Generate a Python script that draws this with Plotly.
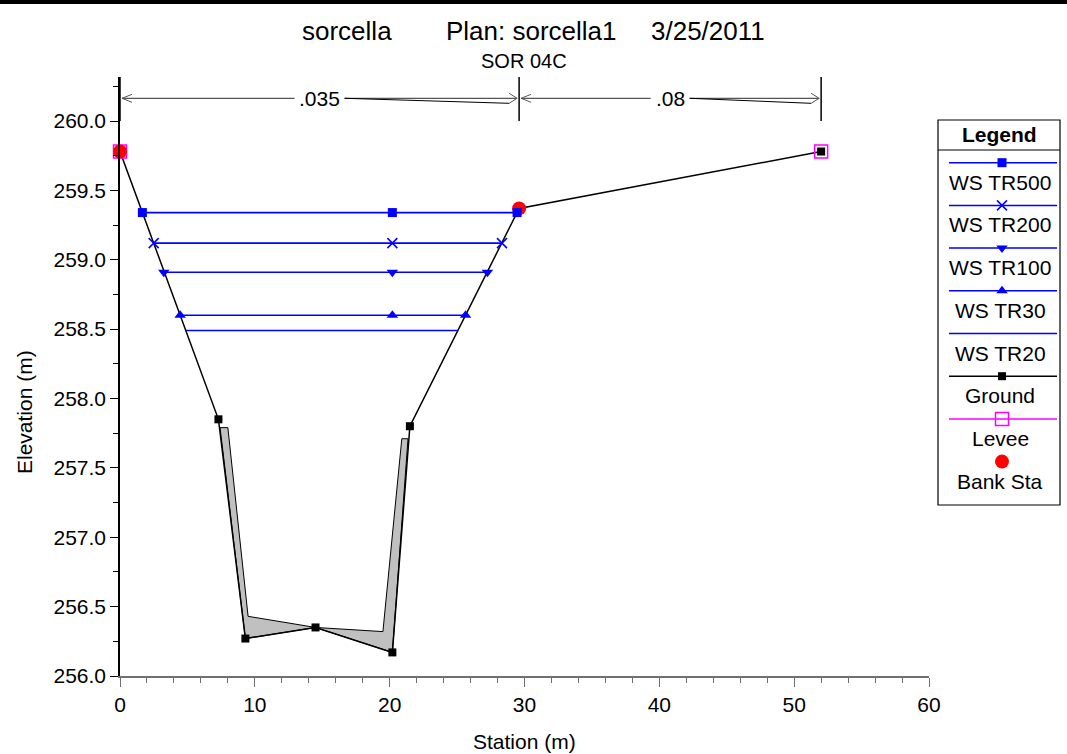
import plotly.graph_objects as go

W, H = 1067, 754

# ---------------- data ----------------
ground_x = [0.0, 7.3, 9.3, 14.5, 20.2, 21.5, 29.6, 52.0]
ground_y = [259.78, 257.85, 256.27, 256.35, 256.17, 257.80, 259.37, 259.78]

inner_x = [7.42, 8.0, 9.5, 14.5, 19.5, 20.9, 21.36]
inner_y = [257.79, 257.79, 256.43, 256.35, 256.32, 257.71, 257.71]

levee_x = [0.0, 52.0]
levee_y = [259.78, 259.78]

bank_x = [0.0, 29.6]
bank_y = [259.78, 259.37]

ws_names = ["WS TR500", "WS TR200", "WS TR100", "WS TR30", "WS TR20"]
ws_elev = [259.34, 259.12, 258.91, 258.60, 258.49]
ws_left = [1.66, 2.50, 3.25, 4.46, 4.88]
ws_right = [29.45, 28.33, 27.25, 25.63, 25.06]
ws_mid = 20.2
ws_symbols = ["square", "x-thin", "triangle-down", "triangle-up", None]

n_break_x = [0.0, 29.6, 52.0]
n_values = [".035", ".08"]

x_ticks = [0, 10, 20, 30, 40, 50, 60]
y_ticks = [256.0, 256.5, 257.0, 257.5, 258.0, 258.5, 259.0, 259.5, 260.0]

# ---------------- layout geometry (pixels) ----------------
PL, PR, PT, PB = 120, 929, 77, 676
X0, X1 = 0.0, 60.0
PX_PER_X = (PR - PL) / (X1 - X0)
PX_PER_Y = 138.75
Y0 = 256.0
Y1 = Y0 + (PB - PT) / PX_PER_Y

FONT = "Liberation Sans, Arial, sans-serif"
BLUE = "#0000FF"
FS = 21


def px(x):
    return x / W


def py(y):
    return 1 - y / H


fig = go.Figure()

# gray fill between ground and inner profile
poly_x = inner_x + ground_x[4:1:-1]
poly_y = inner_y + ground_y[4:1:-1]
fig.add_trace(go.Scatter(x=poly_x + [poly_x[0]], y=poly_y + [poly_y[0]],
                         fill="toself", fillcolor="#C0C0C0",
                         mode="lines", line=dict(color="black", width=1),
                         hoverinfo="skip", showlegend=False))

# ground
fig.add_trace(go.Scatter(x=ground_x, y=ground_y, mode="lines+markers",
                         line=dict(color="black", width=1.5),
                         marker=dict(symbol="square", size=8, color="black"),
                         cliponaxis=False, name="Ground", showlegend=False))
# levee
fig.add_trace(go.Scatter(x=levee_x, y=levee_y, mode="markers",
                         marker=dict(symbol="square-open", size=13, color="#FF00FF",
                                     line=dict(width=1.5, color="#FF00FF")),
                         cliponaxis=False, name="Levee", showlegend=False))
# bank stations
fig.add_trace(go.Scatter(x=bank_x, y=bank_y, mode="markers",
                         marker=dict(symbol="circle", size=14, color="#FF0000"),
                         cliponaxis=False, name="Bank Sta", showlegend=False))

# water surfaces
for name, el, xl, xr, sym in zip(ws_names, ws_elev, ws_left, ws_right, ws_symbols):
    if sym is None:
        fig.add_trace(go.Scatter(x=[xl, xr], y=[el, el], mode="lines",
                                 line=dict(color=BLUE, width=1.6),
                                 name=name, showlegend=False))
    else:
        mk = dict(symbol=sym, size=10 if sym != "square" else 9, color=BLUE)
        if sym == "x-thin":
            mk["line"] = dict(color=BLUE, width=1.5)
        fig.add_trace(go.Scatter(x=[xl, ws_mid, xr], y=[el, el, el],
                                 mode="lines+markers",
                                 line=dict(color=BLUE, width=1.6),
                                 marker=mk, name=name, showlegend=False))

shapes = []
annotations = []

# n-value boundaries and arrows
ARROW_Y = Y0 + (PB - 98.3) / PX_PER_Y
dxp = 1 / PX_PER_X
dyp = 1 / PX_PER_Y
ARROW_COL = "#555555"
for xb in n_break_x:
    shapes.append(dict(type="line", xref="x", yref="y", x0=xb, x1=xb,
                       y0=Y0 + (PB - 121) / PX_PER_Y, y1=Y1,
                       line=dict(color="black", width=1.5)))
for i, lab in enumerate(n_values):
    a, b = n_break_x[i], n_break_x[i + 1]
    m = (a + b) / 2
    gap = (len(lab) * 5.5 + 3) * dxp
    ta = a + 2 * dxp
    tb = b - 2 * dxp
    shapes.append(dict(type="line", xref="x", yref="y", x0=ta, x1=m - gap,
                       y0=ARROW_Y, y1=ARROW_Y, line=dict(color=ARROW_COL, width=1.3)))
    for s in (1, -1):
        shapes.append(dict(type="line", xref="x", yref="y", x0=ta, x1=ta + 10 * dxp,
                           y0=ARROW_Y, y1=ARROW_Y + s * 4 * dyp,
                           line=dict(color=ARROW_COL, width=1)))
    shapes.append(dict(type="line", xref="x", yref="y", x0=m + gap, x1=tb,
                       y0=ARROW_Y, y1=ARROW_Y, line=dict(color=ARROW_COL, width=1.3)))
    shapes.append(dict(type="line", xref="x", yref="y", x0=m + gap, x1=tb - 8 * dxp,
                       y0=ARROW_Y, y1=ARROW_Y - 5 * dyp, line=dict(color="black", width=1)))
    for s in (1, -1):
        shapes.append(dict(type="line", xref="x", yref="y", x0=tb, x1=tb - 8 * dxp,
                           y0=ARROW_Y, y1=ARROW_Y + s * 5 * dyp,
                           line=dict(color=ARROW_COL, width=1)))
    annotations.append(dict(x=m, y=ARROW_Y, xref="x", yref="y", text=lab,
                            showarrow=False, font=dict(family=FONT, size=FS, color="black"),
                            xanchor="center", yanchor="middle"))

# titles
for txt, cx in (("sorcella", 347), ("Plan: sorcella1", 531), ("3/25/2011", 708)):
    annotations.append(dict(x=px(cx), y=py(31), xref="paper", yref="paper", text=txt,
                            showarrow=False, font=dict(family=FONT, size=26, color="black"),
                            xanchor="center", yanchor="middle"))
annotations.append(dict(x=px(524), y=py(61), xref="paper", yref="paper", text="SOR 04C",
                        showarrow=False, font=dict(family=FONT, size=20, color="black"),
                        xanchor="center", yanchor="middle"))
# axis titles
annotations.append(dict(x=px(524), y=py(741), xref="paper", yref="paper", text="Station (m)",
                        showarrow=False, font=dict(family=FONT, size=FS, color="black"),
                        xanchor="center", yanchor="middle"))
annotations.append(dict(x=px(24), y=py(412), xref="paper", yref="paper", text="Elevation (m)",
                        showarrow=False, textangle=-90,
                        font=dict(family=FONT, size=FS, color="black"),
                        xanchor="center", yanchor="middle"))

# top frame line
shapes.append(dict(type="rect", xref="paper", yref="paper", x0=0, x1=1,
                   y0=py(4), y1=1, fillcolor="black", line=dict(width=0)))

# ---------------- manual legend ----------------
LB_L, LB_R, LB_T, LB_B = 938, 1060, 120, 505
shapes.append(dict(type="rect", xref="paper", yref="paper", x0=px(LB_L), x1=px(LB_R),
                   y0=py(LB_B), y1=py(LB_T), line=dict(color="black", width=1.2),
                   fillcolor="white", layer="below"))
shapes.append(dict(type="line", xref="paper", yref="paper", x0=px(LB_L), x1=px(LB_R),
                   y0=py(150), y1=py(150), line=dict(color="black", width=1.2)))
annotations.append(dict(x=px((LB_L + LB_R) / 2), y=py(134), xref="paper", yref="paper",
                        text="<b>Legend</b>", showarrow=False,
                        font=dict(family=FONT, size=FS, color="black"),
                        xanchor="center", yanchor="middle"))

leg_items = [
    (ws_names[0], BLUE, dict(symbol="square", size=9, color=BLUE), True),
    (ws_names[1], BLUE, dict(symbol="x-thin", size=10, color=BLUE, line=dict(color=BLUE, width=1.5)), True),
    (ws_names[2], BLUE, dict(symbol="triangle-down", size=10, color=BLUE), True),
    (ws_names[3], BLUE, dict(symbol="triangle-up", size=10, color=BLUE), True),
    (ws_names[4], BLUE, None, True),
    ("Ground", "black", dict(symbol="square", size=8, color="black"), True),
    ("Levee", "#FF00FF", dict(symbol="square-open", size=13, color="#FF00FF", line=dict(width=1.5, color="#FF00FF")), True),
    ("Bank Sta", None, dict(symbol="circle", size=14, color="#FF0000"), False),
]
LEG_CX = 1002
for i, (name, lcol, mk, has_line) in enumerate(leg_items):
    yl = 162.7 + 42.7 * i
    if has_line:
        shapes.append(dict(type="line", xref="paper", yref="paper", x0=px(949), x1=px(1057),
                           y0=py(yl), y1=py(yl), line=dict(color=lcol, width=1.5)))
    if mk is not None:
        fig.add_trace(go.Scatter(x=[LEG_CX], y=[yl], xaxis="x2", yaxis="y2", mode="markers",
                                 marker=mk, showlegend=False, hoverinfo="skip"))
    annotations.append(dict(x=px(1000), y=py(yl + 19.5), xref="paper", yref="paper",
                            text=name, showarrow=False,
                            font=dict(family=FONT, size=FS, color="black"),
                            xanchor="center", yanchor="middle"))

fig.update_layout(
    width=W, height=H,
    margin=dict(l=0, r=0, t=0, b=0),
    paper_bgcolor="white", plot_bgcolor="white",
    showlegend=False,
    xaxis=dict(domain=[px(PL), px(PR)], range=[X0, X1], tickvals=x_ticks,
               ticktext=[str(v) for v in x_ticks],
               showgrid=False, zeroline=False, showline=True, linecolor="#707070",
               linewidth=1.5, ticks="outside", ticklen=9, tickwidth=1.2, tickcolor="#707070",
               minor=dict(dtick=2, ticks="outside", ticklen=5, tickwidth=1.2,
                          tickcolor="#707070", showgrid=False),
               tickfont=dict(family=FONT, size=FS, color="black"), automargin=False),
    yaxis=dict(domain=[py(PB), py(PT)], range=[Y0, Y1], tickvals=y_ticks,
               ticktext=[f"{v:.1f}" for v in y_ticks],
               showgrid=False, zeroline=False, showline=True, linecolor="black",
               linewidth=1.5, ticks="outside", ticklen=8, tickwidth=1.2, tickcolor="black",
               minor=dict(dtick=0.25, tick0=256.0, ticks="outside", ticklen=5, tickwidth=1.2,
                          tickcolor="black", showgrid=False),
               tickfont=dict(family=FONT, size=FS, color="black"), automargin=False),
    xaxis2=dict(domain=[px(LB_L), px(LB_R)], range=[LB_L, LB_R], visible=False,
                anchor="y2", fixedrange=True),
    yaxis2=dict(domain=[py(LB_B), py(LB_T)], range=[LB_B, LB_T], visible=False,
                anchor="x2", fixedrange=True),
    shapes=shapes,
    annotations=annotations,
)

fig.write_html("out.html", config={"displayModeBar": False},
               post_script="document.body.style.margin='0';document.body.style.overflow='hidden';")
